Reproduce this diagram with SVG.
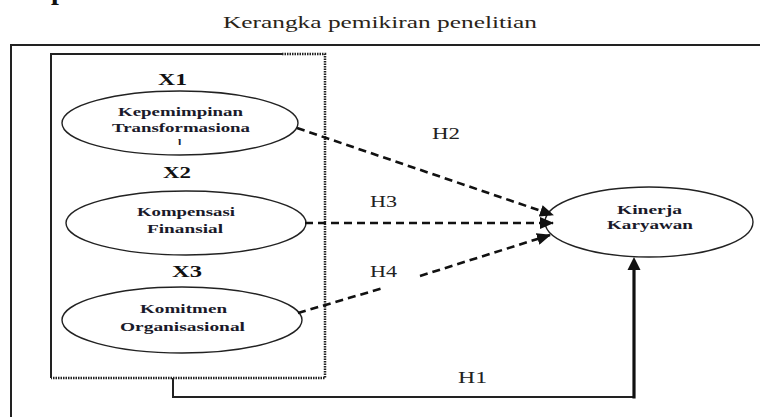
<svg xmlns="http://www.w3.org/2000/svg" width="760" height="417" viewBox="0 0 760 417">
<defs>
<style>
.frame{fill:none;stroke:#222;stroke-width:2}
.node{fill:#fff;stroke:#222;stroke-width:1.4}
.lbl{font-family:"Liberation Serif","Times New Roman",serif;font-weight:bold;font-size:12px;fill:#1a1a2a}
.xl{font-family:"Liberation Serif","Times New Roman",serif;font-weight:bold;font-size:17px;fill:#111}
.hl{font-family:"Liberation Serif","Times New Roman",serif;font-size:16px;fill:#222}
.dash{fill:none;stroke:#111;stroke-width:2.6;stroke-dasharray:8 5}
.solid{fill:none;stroke:#222;stroke-width:2}
.dot{fill:none;stroke:#222;stroke-width:2.5;stroke-dasharray:1.5 1}
</style>
<marker id="ah" markerUnits="userSpaceOnUse" markerWidth="14" markerHeight="12" refX="13" refY="6" orient="auto">
<path d="M0,0 L14,6 L0,12 Z" fill="#111"/>
</marker>
<clipPath id="clipL"><rect x="160" y="130" width="40" height="15"/></clipPath>
</defs>
<text x="51" y="-1" font-family="Liberation Serif, serif" font-weight="bold" font-size="28" fill="#111">p</text>
<text x="223" y="28" textLength="314" lengthAdjust="spacingAndGlyphs" font-family="Liberation Serif, serif" font-size="17" fill="#2a2418">Kerangka pemikiran penelitian</text>
<g id="outer-frame">
<path class="frame" d="M11,420 L11,45 L765,45"/>
</g>
<g id="inner-box">
<path class="solid" d="M51,378 L51,54 L282,54"/>
<path class="dot" d="M282,54 L325,54 L325,378 L51,378"/>
</g>
<g id="x1">
<text class="xl" x="158" y="85" textLength="29" lengthAdjust="spacingAndGlyphs">X1</text>
<ellipse class="node" cx="180" cy="123" rx="118" ry="32"/>
<text class="lbl" x="118" y="116" textLength="125" lengthAdjust="spacingAndGlyphs">Kepemimpinan</text>
<text class="lbl" x="112" y="132" textLength="138" lengthAdjust="spacingAndGlyphs">Transformasiona</text>
<text class="lbl" x="178" y="148" clip-path="url(#clipL)">l</text>
</g>
<g id="x2">
<text class="xl" x="163" y="178" textLength="28" lengthAdjust="spacingAndGlyphs">X2</text>
<ellipse class="node" cx="186" cy="223" rx="120" ry="32"/>
<text class="lbl" x="137" y="216" textLength="98" lengthAdjust="spacingAndGlyphs">Kompensasi</text>
<text class="lbl" x="147" y="233" textLength="76" lengthAdjust="spacingAndGlyphs">Finansial</text>
</g>
<g id="x3">
<text class="xl" x="172" y="277" textLength="30" lengthAdjust="spacingAndGlyphs">X3</text>
<ellipse class="node" cx="182" cy="320" rx="120" ry="33"/>
<text class="lbl" x="140" y="313" textLength="87" lengthAdjust="spacingAndGlyphs">Komitmen</text>
<text class="lbl" x="120" y="331" textLength="125" lengthAdjust="spacingAndGlyphs">Organisasional</text>
</g>
<g id="y">
<ellipse class="node" cx="649" cy="222" rx="104" ry="35"/>
<text class="lbl" x="617" y="214" textLength="65" lengthAdjust="spacingAndGlyphs">Kinerja</text>
<text class="lbl" x="607" y="229" textLength="86" lengthAdjust="spacingAndGlyphs">Karyawan</text>
</g>
<g id="connectors">
<path class="dash" d="M297,128 L553,215" marker-end="url(#ah)"/>
<path class="dash" d="M305,223 L553,223" marker-end="url(#ah)"/>
<path class="dash" d="M298,313 L383,288"/>
<path class="dash" d="M420,276 L550,235" marker-end="url(#ah)"/>
<path class="solid" d="M173,378 L173,397 L634,397"/>
<path fill="none" stroke="#111" stroke-width="3.2" d="M634,398.5 L634,262"/>
<path d="M627.5,270 L634,257 L640.5,270 Z" fill="#111"/>
<text class="hl" x="432" y="139" textLength="28" lengthAdjust="spacingAndGlyphs">H2</text>
<text class="hl" x="370" y="207" textLength="27" lengthAdjust="spacingAndGlyphs">H3</text>
<text class="hl" x="370" y="277" textLength="27" lengthAdjust="spacingAndGlyphs">H4</text>
<text class="hl" x="458" y="383" textLength="29" lengthAdjust="spacingAndGlyphs">H1</text>
</g>
</svg>
